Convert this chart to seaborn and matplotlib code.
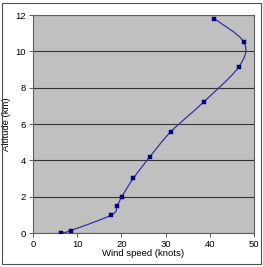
import numpy as np
import seaborn as sns
import matplotlib
matplotlib.use("Agg")
import matplotlib.pyplot as plt
from matplotlib.path import Path
from matplotlib.patches import PathPatch, Rectangle

# === Data ===
wind_speed = [6.3, 8.5, 17.7, 19.0, 20.1, 22.7, 26.4, 31.2, 38.6, 46.6, 47.7, 41.0]
altitude = [0.0, 0.13, 0.99, 1.47, 2.0, 3.01, 4.18, 5.58, 7.21, 9.16, 10.51, 11.8]
x_ticks = [0, 10, 20, 30, 40, 50]
y_ticks = [0, 2, 4, 6, 8, 10, 12]

sns.set_theme(style="white")
plt.rcParams["font.family"] = ["Liberation Sans", "DejaVu Sans"]

fig = plt.figure(figsize=(2.63, 2.67), dpi=100)
ax = fig.add_axes([0.1255, 0.1273, 0.8403, 0.8165])
ax.set_facecolor("#c0c0c0")

# === Smoothed line (Catmull-Rom as bezier segments, like Excel) ===
pts = np.column_stack([wind_speed, altitude])
verts = [tuple(pts[0])]
codes = [Path.MOVETO]
n = len(pts)
for i in range(n - 1):
    p0 = pts[max(i - 1, 0)]
    p1 = pts[i]
    p2 = pts[i + 1]
    p3 = pts[min(i + 2, n - 1)]
    c1 = p1 + (p2 - p0) / 6.0
    c2 = p2 - (p3 - p1) / 6.0
    verts += [tuple(c1), tuple(c2), tuple(p2)]
    codes += [Path.CURVE4] * 3
ax.add_patch(PathPatch(Path(verts, codes), facecolor="none", edgecolor="#3333a0", lw=0.9, zorder=3))

sns.scatterplot(x=wind_speed, y=altitude, ax=ax, marker="s", s=7, color="#000080",
                edgecolor="#000080", linewidth=0.3, zorder=4)

ax.set_xlim(0, 50)
ax.set_ylim(0, 12)
ax.set_xticks(x_ticks)
ax.set_yticks(y_ticks)
ax.yaxis.grid(True, color="#333333", lw=0.8)
ax.set_axisbelow(True)
for s in ax.spines.values():
    s.set_color("#606060")
    s.set_linewidth(0.8)
ax.tick_params(axis="both", direction="out", length=3, width=0.6, color="#404040",
               labelsize=6.8, pad=2, bottom=True, left=True, labelcolor="black")
ax.set_xlabel("Wind speed (knots)", fontsize=6.8, labelpad=0, color="black")
ax.set_ylabel("Altitude (km)", fontsize=6.8, labelpad=3, color="black")

fig.patches.append(Rectangle((0.008, 0.012), 0.984, 0.978, transform=fig.transFigure,
                             fill=False, edgecolor="#505050", lw=0.8))

fig.savefig("out.png", dpi=100, facecolor="white")
